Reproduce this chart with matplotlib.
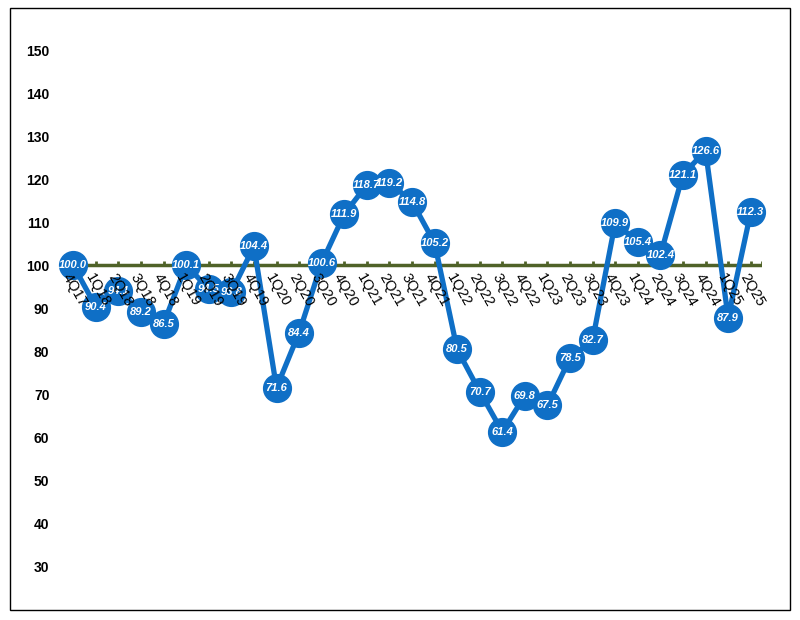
import numpy as np
import matplotlib.pyplot as plt
from matplotlib.patches import Rectangle

quarters = ['4Q17', '1Q18', '2Q18', '3Q18', '4Q18', '1Q19', '2Q19', '3Q19', '4Q19',
            '1Q20', '2Q20', '3Q20', '4Q20', '1Q21', '2Q21', '3Q21', '4Q21',
            '1Q22', '2Q22', '3Q22', '4Q22', '1Q23', '2Q23', '3Q23', '4Q23',
            '1Q24', '2Q24', '3Q24', '4Q24', '1Q25', '2Q25']
values = [100.0, 90.4, 94.1, 89.2, 86.5, 100.1, 94.5, 93.8, 104.4,
          71.6, 84.4, 100.6, 111.9, 118.7, 119.2, 114.8, 105.2,
          80.5, 70.7, 61.4, 69.8, 67.5, 78.5, 82.7, 109.9,
          105.4, 102.4, 121.1, 126.6, 87.9, 112.3]
yticks = [30, 40, 50, 60, 70, 80, 90, 100, 110, 120, 130, 140, 150]
baseline = 100

blue = '#0F6FC6'
green = '#4F6228'

plt.rcParams['font.family'] = ['Liberation Sans', 'DejaVu Sans']

fig = plt.figure(figsize=(8, 6.2), dpi=100)
# cadre exterieur
fig.patches.append(Rectangle((10/800, 10/620), 780/800, 602/620, transform=fig.transFigure,
                             fill=False, edgecolor='black', lw=1))

ax = fig.add_axes([62/800, 53/620, 700/800, 517/620])
x = np.arange(len(values))
ax.set_xlim(-0.5, len(values) - 0.5)
ax.set_ylim(30, 150)
for s in ax.spines.values():
    s.set_visible(False)
ax.set_xticks([])
ax.set_yticks(yticks)
ax.set_yticklabels([str(v) for v in yticks], fontsize=10, fontweight='bold')
ax.tick_params(axis='y', length=0, pad=9)

# axe des categories qui croise a 100, petites graduations vers le haut
ax.plot([-0.5, len(values) - 0.5], [baseline, baseline], color=green, lw=2.5, zorder=2,
        solid_capstyle='butt')
tick_pos = list(x) + [len(values) - 0.5]
for tp in tick_pos:
    ax.plot([tp, tp], [baseline, baseline + 1.0], color=green, lw=2, zorder=2,
            solid_capstyle='butt')

ax.plot(x, values, color=blue, lw=3.8, marker='o', markersize=20,
        markerfacecolor=blue, markeredgecolor=blue, zorder=3, clip_on=False)
for xi, v in zip(x, values):
    ax.text(xi, v, f'{v:.1f}', color='white', fontsize=8, fontweight='bold',
            fontstyle='italic', ha='center', va='center', zorder=4)

for xi, q in zip(x, quarters):
    ax.text(xi - 0.05, baseline - 1.2, q, rotation=-60, rotation_mode='anchor',
            ha='left', va='top', fontsize=10.5, color='black', zorder=5)

fig.savefig('out.png', dpi=100)
